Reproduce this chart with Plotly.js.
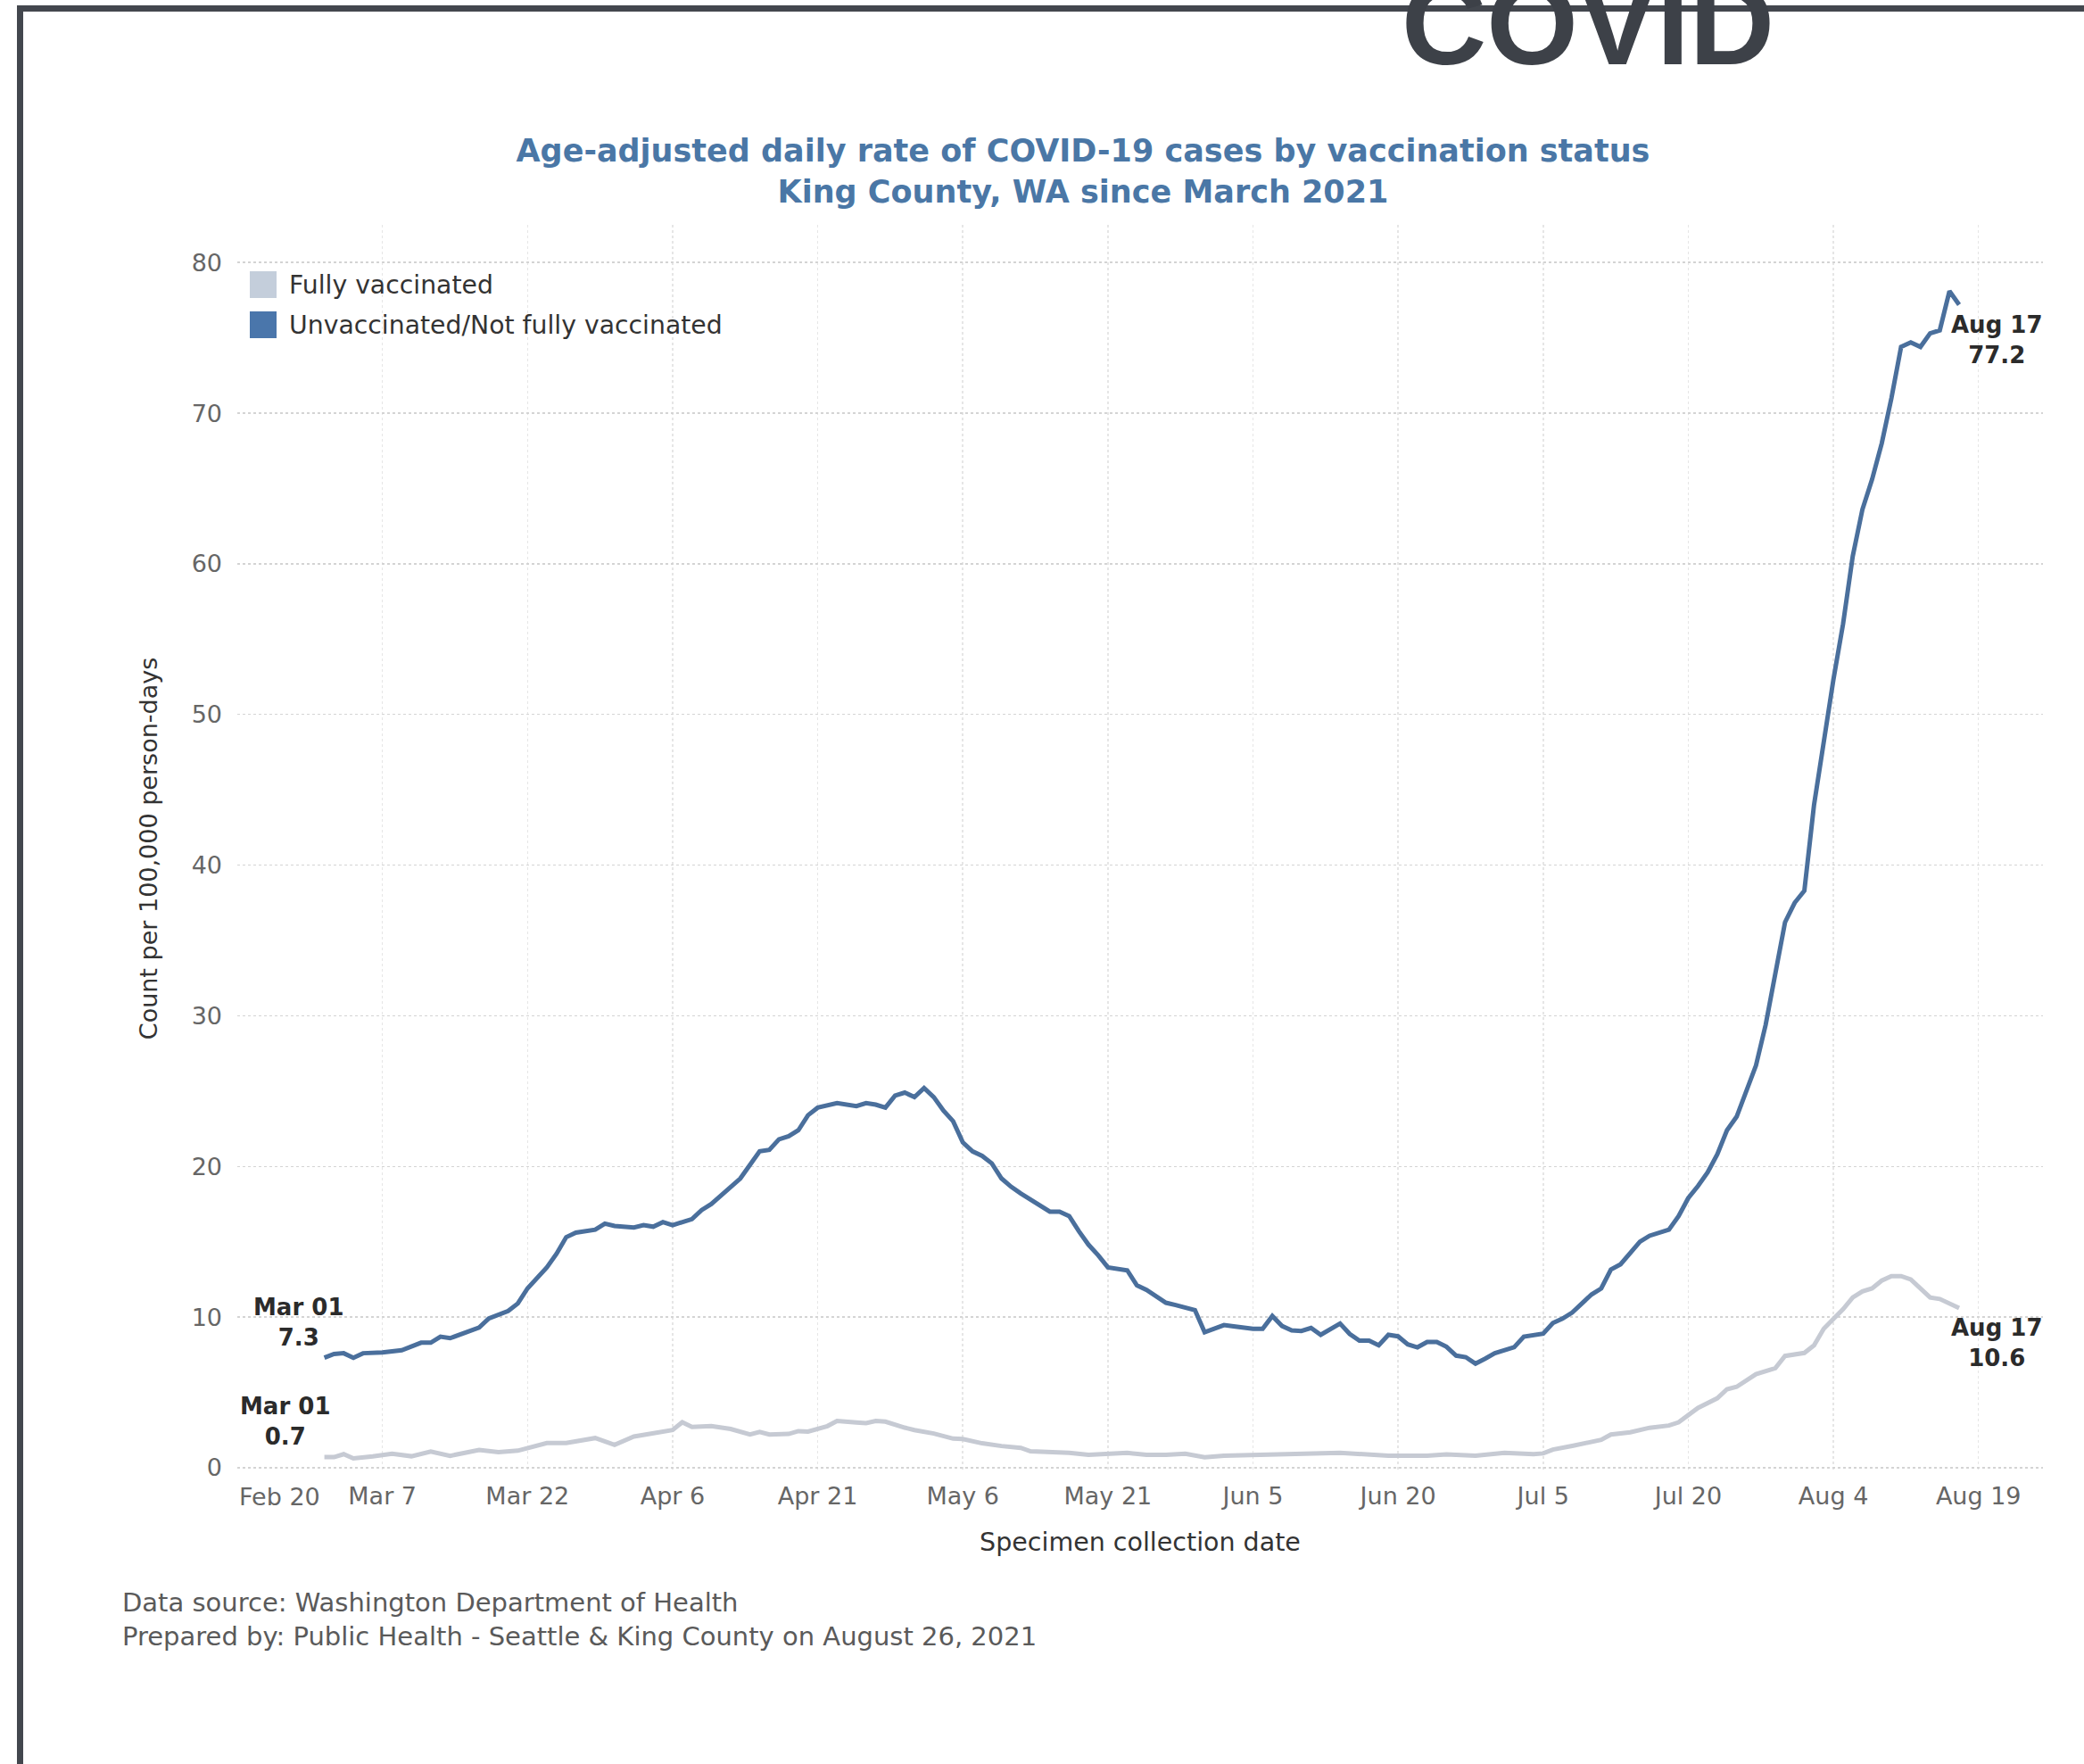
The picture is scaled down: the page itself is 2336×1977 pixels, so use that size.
<!DOCTYPE html>
<html>
<head>
<meta charset="utf-8">
<script src="https://cdn.plot.ly/plotly-3.0.1.min.js"></script>
<style>
  html, body { margin: 0; padding: 0; background: #ffffff; }
  #chart { width: 2336px; height: 1977px; }
</style>
</head>
<body>
<div id="chart"></div>
<script>
// ---- Data ----
const unvaxDates = [
  '2021-03-01','2021-03-02','2021-03-03','2021-03-04','2021-03-05','2021-03-07','2021-03-09','2021-03-11','2021-03-12','2021-03-13',
  '2021-03-14','2021-03-16','2021-03-17','2021-03-18','2021-03-20','2021-03-21','2021-03-22','2021-03-24','2021-03-25','2021-03-26',
  '2021-03-27','2021-03-29','2021-03-30','2021-03-31','2021-04-02','2021-04-03','2021-04-04','2021-04-05','2021-04-06','2021-04-08',
  '2021-04-09','2021-04-10','2021-04-11','2021-04-13','2021-04-14','2021-04-15','2021-04-16','2021-04-17','2021-04-18','2021-04-19',
  '2021-04-20','2021-04-21','2021-04-23','2021-04-25','2021-04-26','2021-04-27','2021-04-28','2021-04-29','2021-04-30','2021-05-01',
  '2021-05-02','2021-05-03','2021-05-04','2021-05-05','2021-05-06','2021-05-07','2021-05-08','2021-05-09','2021-05-10','2021-05-11',
  '2021-05-12','2021-05-14','2021-05-15','2021-05-16','2021-05-17','2021-05-18','2021-05-19','2021-05-20','2021-05-21','2021-05-23',
  '2021-05-24','2021-05-25','2021-05-27','2021-05-28','2021-05-30','2021-05-31','2021-06-01','2021-06-02','2021-06-03','2021-06-05',
  '2021-06-06','2021-06-07','2021-06-08','2021-06-09','2021-06-10','2021-06-11','2021-06-12','2021-06-13','2021-06-14','2021-06-15',
  '2021-06-16','2021-06-17','2021-06-18','2021-06-19','2021-06-20','2021-06-21','2021-06-22','2021-06-23','2021-06-24','2021-06-25',
  '2021-06-26','2021-06-27','2021-06-28','2021-06-29','2021-06-30','2021-07-02','2021-07-03','2021-07-05','2021-07-06','2021-07-07',
  '2021-07-08','2021-07-09','2021-07-10','2021-07-11','2021-07-12','2021-07-13','2021-07-14','2021-07-15','2021-07-16','2021-07-17',
  '2021-07-18','2021-07-19','2021-07-20','2021-07-21','2021-07-22','2021-07-23','2021-07-24','2021-07-25','2021-07-26','2021-07-27',
  '2021-07-28','2021-07-29','2021-07-30','2021-07-31','2021-08-01','2021-08-02','2021-08-03','2021-08-04','2021-08-05','2021-08-06',
  '2021-08-07','2021-08-08','2021-08-09','2021-08-10','2021-08-11','2021-08-12','2021-08-13','2021-08-14','2021-08-15','2021-08-16',
  '2021-08-17'
];
const unvaxRate = [
  7.3, 7.55, 7.6, 7.3, 7.6, 7.65, 7.8, 8.3, 8.3, 8.7,
  8.6, 9.1, 9.3, 9.9, 10.4, 10.9, 11.9, 13.3, 14.2, 15.3,
  15.6, 15.8, 16.2, 16.05, 15.95, 16.1, 16.0, 16.3, 16.1, 16.5,
  17.1, 17.5, 18.1, 19.2, 20.1, 21.0, 21.1, 21.8, 22.0, 22.4,
  23.4, 23.9, 24.2, 24.0, 24.2, 24.1, 23.9, 24.7, 24.9, 24.6,
  25.2, 24.6, 23.7, 23.0, 21.6, 21.0, 20.7, 20.2, 19.2, 18.65,
  18.2, 17.4, 17.0, 17.0, 16.7, 15.7, 14.8, 14.1, 13.3, 13.1,
  12.1, 11.8, 10.95, 10.8, 10.46, 9.0, 9.2, 9.47, 9.38, 9.22,
  9.22, 10.07, 9.41, 9.12, 9.08, 9.28, 8.82, 9.22, 9.57, 8.88,
  8.43, 8.43, 8.13, 8.82, 8.72, 8.19, 7.99, 8.35, 8.35, 8.03,
  7.44, 7.34, 6.91, 7.24, 7.6, 8.0, 8.7, 8.9, 9.6, 9.9,
  10.3, 10.9, 11.5, 11.9, 13.15, 13.5, 14.2, 15.0, 15.4, 15.6,
  15.8, 16.7, 17.9, 18.7, 19.6, 20.8, 22.4, 23.3, 25.0, 26.7,
  29.4, 32.8, 36.2, 37.5, 38.3, 44.0, 48.3, 52.3, 56.0, 60.5,
  63.6, 65.6, 68.0, 71.0, 74.4, 74.7, 74.4, 75.3, 75.5, 78.1,
  77.2
];
const vaxDates = [
  '2021-03-01','2021-03-02','2021-03-03','2021-03-04','2021-03-06','2021-03-08','2021-03-10','2021-03-12','2021-03-14','2021-03-17',
  '2021-03-19','2021-03-21','2021-03-24','2021-03-26','2021-03-29','2021-03-31','2021-04-02','2021-04-04','2021-04-06','2021-04-07',
  '2021-04-08','2021-04-10','2021-04-12','2021-04-14','2021-04-15','2021-04-16','2021-04-18','2021-04-19','2021-04-20','2021-04-22',
  '2021-04-23','2021-04-25','2021-04-26','2021-04-27','2021-04-28','2021-04-30','2021-05-01','2021-05-03','2021-05-05','2021-05-06',
  '2021-05-08','2021-05-10','2021-05-12','2021-05-13','2021-05-15','2021-05-17','2021-05-19','2021-05-21','2021-05-23','2021-05-25',
  '2021-05-27','2021-05-29','2021-05-31','2021-06-02','2021-06-07','2021-06-09','2021-06-14','2021-06-19','2021-06-23','2021-06-25',
  '2021-06-28','2021-07-01','2021-07-04','2021-07-05','2021-07-06','2021-07-08','2021-07-09','2021-07-11','2021-07-12','2021-07-14',
  '2021-07-16','2021-07-18','2021-07-19','2021-07-21','2021-07-23','2021-07-24','2021-07-25','2021-07-27','2021-07-29','2021-07-30',
  '2021-08-01','2021-08-02','2021-08-03','2021-08-05','2021-08-06','2021-08-07','2021-08-08','2021-08-09','2021-08-10','2021-08-11',
  '2021-08-12','2021-08-13','2021-08-14','2021-08-15','2021-08-16','2021-08-17'
];
const vaxRate = [
  0.7, 0.7, 0.9, 0.62, 0.75, 0.93, 0.76, 1.08, 0.79, 1.18,
  1.03, 1.13, 1.64, 1.64, 1.97, 1.52, 2.07, 2.31, 2.5, 3.02,
  2.71, 2.77, 2.57, 2.21, 2.37, 2.2, 2.24, 2.43, 2.4, 2.76,
  3.1, 3.0, 2.96, 3.1, 3.06, 2.66, 2.5, 2.27, 1.93, 1.91,
  1.62, 1.44, 1.32, 1.09, 1.03, 0.99, 0.85, 0.93, 0.99, 0.85,
  0.85, 0.93, 0.69, 0.79, 0.85, 0.93, 0.99, 0.79, 0.79, 0.89,
  0.79, 0.99, 0.9, 0.95, 1.2, 1.45, 1.6, 1.85, 2.2, 2.35,
  2.65, 2.8, 3.01, 3.97, 4.61, 5.21, 5.37, 6.21, 6.61, 7.42,
  7.62, 8.12, 9.22, 10.52, 11.3, 11.7, 11.9, 12.42, 12.72, 12.72,
  12.5, 11.9, 11.3, 11.2, 10.9, 10.6
];
const seriesNames = ['Fully vaccinated', 'Unvaccinated/Not fully vaccinated'];
const xTickVals = ['2021-02-20','2021-03-07','2021-03-22','2021-04-06','2021-04-21','2021-05-06','2021-05-21',
                   '2021-06-05','2021-06-20','2021-07-05','2021-07-20','2021-08-04','2021-08-19'];
const xTickText = ['', 'Mar 7','Mar 22','Apr 6','Apr 21','May 6','May 21','Jun 5','Jun 20','Jul 5','Jul 20','Aug 4','Aug 19'];
const firstTickLabel = 'Feb 20';
const yTickVals = [0, 10, 20, 30, 40, 50, 60, 70, 80];

// ---- Styling ----
const FONT = 'DejaVu Sans, Verdana, sans-serif';
const BLUE = '#4a6f9c';
const GRAY = '#c6cad3';
const SW_BLUE = '#4a76ab';
const SW_GRAY = '#c4cedb';

// plot area in pixels: left 266, right 2290, top 252, bottom 1650
const PL = 266, PR = 2290, PT = 252, PB = 1650;
const px2x = p => (p - PL) / (PR - PL);
const px2y = p => (PB - p) / (PB - PT);

const traces = [
  { type: 'scatter', mode: 'lines', name: seriesNames[0], x: vaxDates, y: vaxRate,
    line: { color: GRAY, width: 5 }, showlegend: false, hoverinfo: 'skip' },
  { type: 'scatter', mode: 'lines', name: seriesNames[1], x: unvaxDates, y: unvaxRate,
    line: { color: BLUE, width: 5 }, showlegend: false, hoverinfo: 'skip' }
];

const lblFont = { family: FONT, size: 26, color: '#2b2b2b', weight: 'bold' };
const lastU = unvaxDates.length - 1, lastV = vaxDates.length - 1;
const fmtDay = d => { const m = ['Jan','Feb','Mar','Apr','May','Jun','Jul','Aug','Sep','Oct','Nov','Dec'];
  const p = d.split('-'); return m[+p[1]-1] + ' ' + p[2]; };

const annotations = [
  // end-point labels
  { x: unvaxDates[0], y: unvaxRate[0], xref: 'x', yref: 'y', showarrow: false,
    text: fmtDay(unvaxDates[0]) + '<br>' + unvaxRate[0].toFixed(1), font: lblFont, align: 'center',
    xshift: -29, yshift: 40 },
  { x: vaxDates[0], y: vaxRate[0], xref: 'x', yref: 'y', showarrow: false,
    text: fmtDay(vaxDates[0]) + '<br>' + vaxRate[0].toFixed(1), font: lblFont, align: 'center',
    xshift: -44, yshift: 40 },
  { x: unvaxDates[lastU], y: unvaxRate[lastU], xref: 'x', yref: 'y', showarrow: false,
    text: fmtDay(unvaxDates[lastU]) + '<br>' + unvaxRate[lastU].toFixed(1), font: lblFont, align: 'center',
    xshift: 42, yshift: -40 },
  { x: vaxDates[lastV], y: vaxRate[lastV], xref: 'x', yref: 'y', showarrow: false,
    text: fmtDay(vaxDates[lastV]) + '<br>' + vaxRate[lastV].toFixed(1), font: lblFont, align: 'center',
    xshift: 42, yshift: -39 },
  // first x tick label (left-aligned at plot edge)
  { x: xTickVals[0], y: px2y(1677), xref: 'x', yref: 'paper', showarrow: false, xanchor: 'left', yanchor: 'middle',
    text: firstTickLabel, font: { family: FONT, size: 27, color: '#666666' } },
  // legend labels
  { x: px2x(322), y: px2y(319), xref: 'paper', yref: 'paper', showarrow: false, xanchor: 'left', yanchor: 'middle',
    text: seriesNames[0], font: { family: FONT, size: 28.3, color: '#333333' } },
  { x: px2x(322), y: px2y(364), xref: 'paper', yref: 'paper', showarrow: false, xanchor: 'left', yanchor: 'middle',
    text: seriesNames[1], font: { family: FONT, size: 28.3, color: '#333333' } },
  // footer
  { x: px2x(135), y: px2y(1815), xref: 'paper', yref: 'paper', showarrow: false, xanchor: 'left', yanchor: 'middle',
    align: 'left', text: 'Data source: Washington Department of Health<br>Prepared by: Public Health - Seattle &amp; King County on August 26, 2021',
    font: { family: FONT, size: 29, color: '#5a5a5a' } },
  // big cropped heading at top
  { x: px2x(1780), y: px2y(27), xref: 'paper', yref: 'paper', showarrow: false, xanchor: 'center', yanchor: 'middle',
    text: 'COVID', font: { family: 'Liberation Sans, Arial, sans-serif', size: 132, color: '#3d4148', weight: 'bold' } }
];

const shapes = [
  // frame lines
  { type: 'rect', xref: 'paper', yref: 'paper', x0: px2x(19), x1: px2x(2340), y0: px2y(13), y1: px2y(6),
    fillcolor: '#43474e', line: { width: 0 }, layer: 'below' },
  { type: 'rect', xref: 'paper', yref: 'paper', x0: px2x(19), x1: px2x(26), y0: px2y(1980), y1: px2y(6),
    fillcolor: '#43474e', line: { width: 0 }, layer: 'below' },
  // legend swatches
  { type: 'rect', xref: 'paper', yref: 'paper', x0: px2x(280), x1: px2x(310), y0: px2y(334), y1: px2y(304),
    fillcolor: SW_GRAY, line: { width: 0 } },
  { type: 'rect', xref: 'paper', yref: 'paper', x0: px2x(280), x1: px2x(310), y0: px2y(379), y1: px2y(349),
    fillcolor: SW_BLUE, line: { width: 0 } }
];

const layout = {
  width: 2336, height: 1977,
  margin: { l: PL, r: 2336 - PR, t: PT, b: 1977 - PB, pad: 0 },
  paper_bgcolor: '#ffffff', plot_bgcolor: '#ffffff',
  font: { family: FONT, size: 27, color: '#333333' },
  showlegend: false,
  title: {
    text: 'Age-adjusted daily rate of COVID-19 cases by vaccination status<br>King County, WA since March 2021',
    font: { family: FONT, size: 35, color: '#4a77a6', weight: 'bold' },
    xref: 'container', yref: 'container', x: 1214 / 2336, xanchor: 'center',
    y: 1 - 181 / 1977, yanchor: 'middle'
  },
  xaxis: {
    type: 'date',
    range: ['2021-02-20', '2021-08-25 16:00'],
    tickmode: 'array', tickvals: xTickVals, ticktext: xTickText,
    tickfont: { family: FONT, size: 27, color: '#666666' },
    ticks: '', ticklabelstandoff: 8,
    showgrid: true, gridcolor: '#e6e6e6', griddash: 'dot', gridwidth: 1.5,
    zeroline: false, showline: false,
    title: { text: 'Specimen collection date', font: { family: FONT, size: 28.5, color: '#333333' }, standoff: 27 }
  },
  yaxis: {
    range: [-0.3, 82.5],
    tickmode: 'array', tickvals: yTickVals,
    tickfont: { family: FONT, size: 27, color: '#666666' },
    ticks: '', ticklabelstandoff: 16,
    showgrid: true, gridcolor: '#d4d4d4', griddash: 'dot', gridwidth: 1.5,
    zeroline: false, showline: false,
    title: { text: 'Count per 100,000 person-days', font: { family: FONT, size: 27, color: '#333333' }, standoff: 30 }
  },
  annotations: annotations,
  shapes: shapes
};

Plotly.newPlot('chart', traces, layout, { staticPlot: true, displayModeBar: false });
</script>
</body>
</html>
